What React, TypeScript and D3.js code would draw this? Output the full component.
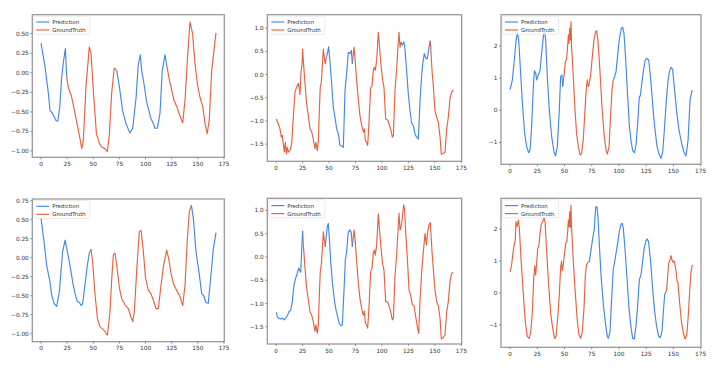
import React from 'react';
import * as d3 from 'd3';

// values: [step, value]
const p1Points = [
  [0, 0.38], [3.8, 0.08], [7, -0.26], [8.6, -0.48], [11, -0.52], [14.3, -0.61], [16, -0.62], [18, -0.43],
  [19.8, -0.05], [21.4, 0.14], [23.3, 0.31], [24.5, -0.05], [26, -0.18], [29.3, -0.31], [32.5, -0.52],
  [35.7, -0.73], [39, -0.97], [40.5, -0.86], [43, -0.18], [46.2, 0.33], [47.8, 0.25], [50, -0.22], [53, -0.78],
  [55.8, -0.9], [58, -0.95], [61, -0.97], [63.5, -1.01], [65.4, -0.78], [67.6, -0.26], [70, 0.06], [72.4, 0.03],
  [75, -0.18], [78, -0.48], [81.3, -0.65], [85, -0.77], [87.7, -0.71], [91, -0.31], [93, 0.1], [95, 0.23],
  [96.3, 0.03], [98.5, -0.14], [101, -0.37], [105, -0.58], [107.5, -0.65], [109, -0.71], [111.3, -0.71],
  [113.8, -0.52], [116, 0.03], [118.6, 0.23], [120.2, 0.1], [122.8, -0.09], [125, -0.22], [127.2, -0.35],
  [129.8, -0.43], [132.9, -0.55], [135.5, -0.64], [137.8, -0.35], [140, 0.16], [142.5, 0.65], [145, 0.5],
  [147.3, 0.12], [149.6, -0.14], [152, -0.31], [154.7, -0.43], [157, -0.65], [159, -0.78], [161, -0.6],
  [163.3, 0.03], [165.5, 0.29], [167.4, 0.51],
];

const p2Points = [
  [0.2, -0.96], [2, -1.06], [3.6, -1.17], [4.9, -1.35], [5.8, -1.31], [6.8, -1.49], [7.7, -1.67], [8.7, -1.46],
  [9.6, -1.71], [10.6, -1.57], [11.5, -1.67], [13.1, -1.64], [14.7, -1.49], [16.2, -0.92], [17.8, -0.38],
  [19.4, -0.27], [21, -0.19], [21.9, -0.31], [22.5, -0.43], [23.5, 0.05], [24.4, 0.19], [25, 0.55], [25.7, 0.3],
  [27.3, -0.2], [28.8, -0.63], [30.4, -0.88], [32, -1.17], [33.6, -1.24], [35.1, -1.39], [36.7, -1.6],
  [37.6, -1.46], [38.9, -1.64], [39.9, -1.42], [40.8, -0.78], [41.7, -0.27], [42.7, -0.17], [43.6, 0.16],
  [44.6, 0.55], [45.5, 0.37], [46.5, 0.23], [47.4, 0.37], [48.7, 0.48], [49.6, 0.6], [50.9, 0.27], [52.5, -0.2],
  [54, -0.7], [55.6, -0.92], [57.2, -1.17], [58.8, -1.28], [60.3, -1.53], [61.9, -1.54], [63.5, -1.57],
  [65.1, -0.34], [66.6, 0.01], [68.2, 0.48], [69.8, 0.45], [71.1, 0.52], [72, 0.23], [73.6, 0.59], [74.5, 0.37],
  [76.1, -0.13], [77.7, -0.56], [79.2, -0.88], [80.8, -1.1], [81.8, -1.17], [82.4, -1.24], [83.4, -1.17],
  [84.3, -1.42], [85.5, -1.46], [86.5, -1.53], [87.7, -1.06], [89.3, -0.29], [90.6, -0.24], [91.8, 0.09],
  [92.8, 0.16], [93.7, 0.09], [95, 0.3], [96.6, 0.91], [97.5, 0.66], [99.1, 0.19], [100.7, -0.13], [101.9, -0.27],
  [103.5, -0.96], [105.4, -0.98], [106.6, -1.06], [108.2, -1.17], [109.8, -1.35], [110.8, -1.31], [112.3, -0.34],
  [113.9, 0.12], [114.9, 0.52], [116.1, 0.91], [117.1, 0.59], [118, 0.7], [119.2, 0.63], [120.8, 0.7],
  [121.7, 0.55], [123.3, 0.09], [124.9, -0.42], [126.5, -0.78], [128.1, -1.05], [129.7, -1.1], [131.2, -1.28],
  [132.8, -1.35], [134.4, -1.39], [136, -0.56], [137.5, -0.02], [138.5, 0.23], [140, 0.45], [141.6, 0.34],
  [142.9, 0.34], [144.5, 0.59], [145.7, 0.73], [147.3, 0.09], [148.6, -0.27], [150.1, -0.78], [151.7, -0.92],
  [153.3, -1.03], [154.9, -1.35], [156.1, -1.72], [158, -1.7], [159.6, -1.67], [161.2, -1.17], [162.7, -0.92],
  [164.3, -0.52], [165.9, -0.38], [167.5, -0.33],
];

const p3Points = [
  [0, 0.65], [2.1, 0.95], [3.9, 1.57], [5.4, 2.14], [6.6, 2.45], [7.9, 2.19], [9.7, 1.15], [11.5, 0.11],
  [13.4, -0.72], [15.2, -1.13], [17.1, -1.32], [18.3, -1.24], [19.8, -0.51], [21.3, 0.69], [22.3, 1.23],
  [23.5, 1.17], [24.4, 0.95], [25.9, 1.1], [27.5, 1.24], [29, 1.78], [30.5, 2.29], [31.4, 2.5], [32.7, 2.19],
  [34.2, 1.05], [36, 0.01], [38.2, -0.82], [40.3, -1.29], [41.8, -1.42], [43.4, -1.13], [45.2, 0.01],
  [46.4, 1.05], [47.6, 1.1], [48.3, 0.74], [49.5, 1.05], [50.7, 1.52], [51.7, 1.57], [52.6, 1.88], [53.5, 2.35],
  [54.1, 2.09], [54.7, 2.55], [55.3, 2.19], [55.9, 2.76], [56.5, 1.98], [58.1, 1.05], [59.6, 0.01], [61.1, -0.72],
  [62.7, -1.13], [64.2, -1.39], [65.7, -1.34], [67.2, -0.92], [68.8, 0.01], [70, 0.69], [70.9, 0.95], [71.9, 0.74],
  [72.8, 0.84], [74, 1.1], [75.5, 1.67], [77.1, 2.21], [78.6, 2.45], [79.5, 2.48], [80.7, 2.19], [82.6, 1.2],
  [84.4, 0.11], [86.3, -0.72], [88.1, -1.24], [89.3, -1.36], [90.9, -1.13], [92.4, -0.09], [93.6, 0.63],
  [94.8, 0.95], [96, 1.05], [97.3, 1.2], [98.8, 1.72], [100.3, 2.21], [102.2, 2.55], [103.4, 2.59], [104.6, 2.4],
  [106.2, 1.57], [108, 0.43], [109.6, -0.51], [111.2, -0.98], [112.7, -1.26], [114.3, -1.32], [115.8, -1.03],
  [117.2, -0.4], [118.7, 0.43], [119.6, 0.45], [121.2, 0.89], [122.7, 1.31], [124.2, 1.57], [125.8, 1.62],
  [127.3, 1.57], [128.8, 1.1], [130.4, 0.43], [131.9, -0.2], [133.5, -0.72], [135, -1.13], [136.8, -1.36],
  [138.6, -1.5], [140.2, -1.29], [141.7, -0.61], [143.5, 0.32], [145, 0.89], [146.3, 1.2], [147.8, 1.34],
  [149.3, 1.28], [150.8, 0.74], [153, -0.04], [155.1, -0.61], [157.6, -1.03], [159.8, -1.32], [161.6, -1.42],
  [163.5, -0.92], [165.3, 0.32], [167.2, 0.63],
];

const p4Points = [
  [0, 0.52], [2.9, 0.21], [5.4, -0.1], [8.6, -0.32], [10.2, -0.49], [12.4, -0.6], [15, -0.64], [17.5, -0.45],
  [20.7, 0.08], [23, 0.23], [25.2, 0.08], [27.7, -0.1], [30.3, -0.32], [32.5, -0.47], [34.8, -0.58], [36.7, -0.59],
  [38.3, -0.63], [39.9, -0.6], [42, -0.36], [44.3, -0.1], [46.2, 0.06], [47.8, 0.11], [49.4, -0.05], [51.7, -0.49],
  [54, -0.8], [56.4, -0.91], [59, -0.94], [61.2, -0.97], [63.5, -1.02], [66, -0.71], [67.6, -0.29], [69.2, 0.04],
  [70.8, 0.06], [72.4, -0.1], [75, -0.4], [77.2, -0.54], [80.4, -0.62], [83.5, -0.67], [86, -0.78], [87.7, -0.84],
  [89.3, -0.71], [91.5, -0.18], [94, 0.34], [95.7, 0.36], [97.9, 0.08], [100, -0.27], [102.7, -0.43], [105, -0.47],
  [107.5, -0.56], [110, -0.67], [112.2, -0.67], [114.5, -0.4], [117, -0.12], [120.2, 0.1], [122.4, -0.03],
  [124.4, -0.21], [126.6, -0.34], [129.8, -0.43], [132.9, -0.51], [135.5, -0.63], [137.8, -0.36], [140, 0.25],
  [141.9, 0.61], [143.9, 0.69], [145.7, 0.52], [148.3, 0.08], [151.5, -0.23], [153.7, -0.47], [156, -0.51],
  [157.8, -0.59], [160, -0.6], [162.3, -0.27], [164.9, 0.12], [167.4, 0.33],
];

const p5Points = [
  [0.2, -1.19], [1.1, -1.28], [2.7, -1.32], [4.3, -1.33], [6.1, -1.32], [7.7, -1.35], [9.3, -1.3], [10.9, -1.25],
  [12.1, -1.17], [13.7, -1.15], [15.3, -0.96], [16.9, -0.6], [18.4, -0.46], [20, -0.35], [21.3, -0.24],
  [22.2, -0.28], [23.2, -0.33], [24.1, 0.11], [25, 0.56], [25.7, 0.26], [27.3, -0.24], [28.8, -0.67],
  [30.4, -0.92], [32, -1.17], [33.6, -1.25], [35.1, -1.39], [36.7, -1.6], [37.6, -1.46], [38.9, -1.64],
  [39.9, -1.46], [40.8, -0.82], [41.7, -0.32], [42.7, -0.16], [43.6, 0.15], [44.6, 0.54], [45.5, 0.37],
  [46.5, 0.22], [47.4, 0.47], [48.4, 0.65], [49.3, 0.72], [50.3, 0.4], [51.8, -0.17], [53.4, -0.6], [55, -0.92],
  [56.6, -1.14], [58.1, -1.28], [59.7, -1.43], [61.3, -1.48], [62.5, -1.46], [64.1, -0.74], [65.4, -0.06],
  [66.6, 0.11], [68.2, 0.54], [69.8, 0.58], [71.1, 0.51], [72, 0.22], [73.6, 0.58], [74.5, 0.4], [76.1, -0.1],
  [77.7, -0.57], [79.2, -0.89], [80.8, -1.1], [81.8, -1.21], [82.4, -1.25], [83.4, -1.17], [84.3, -1.43],
  [85.5, -1.46], [86.5, -1.53], [87.7, -1.1], [89.3, -0.32], [90.6, -0.24], [91.8, 0.08], [92.8, 0.15],
  [93.7, 0.04], [95, 0.26], [96.6, 0.92], [97.5, 0.65], [99.1, 0.19], [100.7, -0.16], [101.9, -0.28],
  [103.5, -0.96], [105.4, -0.97], [106.6, -1.05], [108.2, -1.17], [109.8, -1.35], [110.8, -1.32], [112.3, -0.42],
  [113.9, 0.04], [114.9, 0.44], [116.1, 0.94], [117.1, 0.58], [118, 0.63], [119.2, 0.83], [120.5, 1.12],
  [121.4, 1.01], [122.4, 0.54], [124, -0.03], [125.6, -0.71], [127.1, -0.82], [128.7, -1.02], [130.3, -1.05],
  [131.9, -1.28], [133.4, -1.5], [134.7, -1.64], [136, -0.92], [137.5, -0.32], [139.1, 0.11], [140.7, 0.51],
  [142, 0.26], [143.2, 0.54], [144.5, 0.69], [145.7, 0.74], [147.3, 0.11], [148.6, -0.28], [150.1, -0.71],
  [151.7, -0.96], [153.3, -1.05], [154.9, -1.32], [156.1, -1.76], [158, -1.73], [159.6, -1.67], [161.2, -1.17],
  [162.7, -0.96], [164.3, -0.53], [165.9, -0.35], [167.5, -0.33],
];

const p6Points = [
  [0, 0.65], [1.4, 0.88], [3, 1.34], [4.2, 1.58], [4.8, 1.66], [5.4, 2.23], [6.1, 2.07], [7, 2.18], [7.6, 2.28],
  [8.5, 2.02], [10, 1.08], [12.2, -0.06], [14, -0.9], [15.8, -1.36], [17.4, -1.42], [18.9, -1.26], [20.5, -0.58],
  [21.7, 0.46], [22.6, 0.85], [23.5, 0.56], [24.4, 0.93], [25.4, 1.4], [26.3, 1.45], [27.5, 1.86], [28.7, 2.15],
  [29.9, 2.23], [31.2, 2.35], [32.1, 2.23], [33.6, 1.29], [35.4, 0.25], [37.3, -0.64], [39.1, -1.1], [40.9, -1.42],
  [42.2, -1.36], [43.7, -0.79], [45.2, -0.06], [46.4, 0.79], [47.3, 1.0], [47.9, 0.69], [48.9, 0.88], [50.1, 1.29],
  [51.1, 1.55], [52, 1.58], [52.9, 1.92], [53.5, 2.28], [54.1, 2.07], [54.7, 2.54], [55.3, 2.04], [55.9, 2.75],
  [56.5, 2.02], [58.1, 0.98], [60, -0.06], [61.8, -0.9], [63.3, -1.31], [64.8, -1.42], [66.3, -1.21], [67.9, -0.48],
  [69.1, 0.56], [70.3, 0.88], [71.6, 0.96], [72.8, 0.98], [74.3, 1.34], [75.9, 1.71], [77.4, 2.02], [78.3, 2.54],
  [78.9, 2.7], [79.9, 2.68], [80.8, 2.33], [82, 1.5], [83.6, 0.51], [85.7, -0.38], [87.8, -1.0], [89.3, -1.36],
  [90.2, -1.42], [91.8, -1.21], [93.3, -0.17], [94.8, 0.77], [95.7, 0.9], [97.3, 1.24], [98.8, 1.55], [100.3, 1.92],
  [101.9, 2.15], [103.1, 2.18], [104, 2.02], [105.5, 1.4], [107.4, 0.46], [109.2, -0.48], [111.1, -1.1],
  [112.6, -1.42], [114.1, -1.44], [115.7, -1.0], [117.2, -0.38], [118.7, 0.41], [120.2, 0.56], [121.7, 0.98],
  [123.2, 1.4], [124.8, 1.63], [126, 1.69], [127.2, 1.6], [129.1, 0.98], [130.9, 0.15], [132.8, -0.58],
  [134.6, -1.05], [136.5, -1.36], [138, -1.4], [139.5, -1.21], [140.8, -0.58], [142, -0.06], [142.9, 0.02],
  [143.8, 0.09], [144.8, 0.56], [145.7, 0.93], [146.9, 1.03], [147.8, 1.17], [148.8, 1.03], [149.7, 0.96],
  [150.6, 1.0], [151.5, 0.88], [152.5, 0.67], [153.4, 0.37], [154.3, 0.3], [155.5, -0.22], [157.4, -0.9],
  [159.2, -1.26], [160.8, -1.44], [162.3, -1.31], [163.7, -0.69], [165.3, 0.25], [166.2, 0.67], [167.4, 0.88],
];

// step ranges drawn as Prediction; everything else is GroundTruth
const p1Pred = [[0, 24], [72, 120]];
const p2Pred = [[47, 72], [118, 146]];
const p3Pred = [[0, 48], [95, 168]];
const p4Pred = [[0, 48], [144, 168]];
const p5Pred = [[0, 25], [46.6, 72]];
const p6Pred = [[72, 143]];

const xTicks = [0, 25, 50, 75, 100, 125, 150, 175];
const yTicksA = [-1.0, -0.75, -0.5, -0.25, 0, 0.25, 0.5];
const yTicksA2 = [-1.0, -0.75, -0.5, -0.25, 0, 0.25, 0.5, 0.75];
const yTicksB = [-1.5, -1.0, -0.5, 0, 0.5, 1.0];
const yTicksC = [-1, 0, 1, 2];

const seriesNames = ['Prediction', 'GroundTruth'];

const BLUE = '#4189e6';
const RED = '#e8623f';
const FONT = 'DejaVu Sans, sans-serif';

type Pt = number[];

// cut the curve into runs of Prediction / GroundTruth
const splitSegments = (pts: Pt[], pred: number[][]) => {
  const segs: { pred: boolean; pts: Pt[] }[] = [];
  for (let i = 0; i < pts.length - 1; i++) {
    const mid = (pts[i][0] + pts[i + 1][0]) / 2;
    const isPred = pred.some(([a, b]) => mid >= a && mid <= b);
    const last = segs[segs.length - 1];
    if (last && last.pred === isPred) last.pts.push(pts[i + 1]);
    else segs.push({ pred: isPred, pts: [pts[i], pts[i + 1]] });
  }
  return segs;
};

const minus = (s: string) => s.replace('-', '\u2212');

interface PanelProps {
  box: { l: number; r: number; t: number; b: number };
  points: Pt[];
  pred: number[][];
  yDomain: [number, number];
  yTicks: number[];
  fmt: string;
}

const Panel: React.FC<PanelProps> = ({ box, points, pred, yDomain, yTicks, fmt }) => {
  const x = d3.scaleLinear().domain([-8.35, 175.35]).range([box.l, box.r]);
  const y = d3.scaleLinear().domain(yDomain).range([box.b, box.t]);
  const line = d3.line<Pt>().x(d => x(d[0])).y(d => y(d[1]));
  const segs = splitSegments(points, pred);
  const f = d3.format(fmt);

  return (
    <g>
      {segs.filter(s => !s.pred).map((s, i) => (
        <path key={'g' + i} d={line(s.pts) || ''} fill="none" stroke={RED} strokeWidth={1.15} strokeLinejoin="round" />
      ))}
      {segs.filter(s => s.pred).map((s, i) => (
        <path key={'p' + i} d={line(s.pts) || ''} fill="none" stroke={BLUE} strokeWidth={1.15} strokeLinejoin="round" />
      ))}

      <rect x={box.l} y={box.t} width={box.r - box.l} height={box.b - box.t} fill="none" stroke="#9a9a9a" strokeWidth={1.3} />

      {xTicks.map(t => (
        <g key={'x' + t}>
          <line x1={x(t)} x2={x(t)} y1={box.b} y2={box.b + 2} stroke="#555" strokeWidth={0.6} />
          <text x={x(t)} y={box.b + 8.5} textAnchor="middle" fontSize={5.8} fill="#333" fontFamily={FONT}>{t}</text>
        </g>
      ))}
      {yTicks.map(t => (
        <g key={'y' + t}>
          <line x1={box.l - 2} x2={box.l} y1={y(t)} y2={y(t)} stroke="#555" strokeWidth={0.6} />
          <text x={box.l - 3.5} y={y(t) + 2} textAnchor="end" fontSize={5.8} fill="#333" fontFamily={FONT}>{minus(f(t))}</text>
        </g>
      ))}

      {/* legend */}
      <rect x={box.l + 1.5} y={box.t + 1.5} width={56} height={18} rx={1.5} fill="#fff" fillOpacity={0.8} stroke="#ddd" strokeWidth={0.6} />
      {seriesNames.map((name, i) => (
        <g key={name}>
          <line x1={box.l + 4} x2={box.l + 17} y1={box.t + 7.3 + i * 8} y2={box.t + 7.3 + i * 8} stroke={i === 0 ? BLUE : RED} strokeWidth={1.15} />
          <text x={box.l + 20} y={box.t + 9.3 + i * 8} fontSize={5.4} fill="#333" fontFamily={FONT}>{name}</text>
        </g>
      ))}
    </g>
  );
};

const panels: PanelProps[] = [
  { box: { l: 32.3, r: 224.3, t: 14.7, b: 157.3 }, points: p1Points, pred: p1Pred, yDomain: [-1.081, 0.743], yTicks: yTicksA, fmt: '.2f' },
  { box: { l: 267.3, r: 461.7, t: 14.7, b: 161.3 }, points: p2Points, pred: p2Pred, yDomain: [-1.87, 1.29], yTicks: yTicksB, fmt: '.1f' },
  { box: { l: 501, r: 701, t: 14.7, b: 164.3 }, points: p3Points, pred: p3Pred, yDomain: [-1.68, 2.98], yTicks: yTicksC, fmt: 'd' },
  { box: { l: 32.3, r: 224.3, t: 199, b: 341.7 }, points: p4Points, pred: p4Pred, yDomain: [-1.105, 0.772], yTicks: yTicksA2, fmt: '.2f' },
  { box: { l: 267.3, r: 461.7, t: 198.3, b: 344 }, points: p5Points, pred: p5Pred, yDomain: [-1.87, 1.26], yTicks: yTicksB, fmt: '.1f' },
  { box: { l: 501, r: 701, t: 198.3, b: 347.3 }, points: p6Points, pred: p6Pred, yDomain: [-1.7, 2.96], yTicks: yTicksC, fmt: 'd' },
];

export default function App() {
  return (
    <div style={{ position: 'absolute', left: 0, top: 0 }}>
      <svg width={720} height={369} style={{ display: 'block', background: '#fff' }}>
        {panels.map((p, i) => <Panel key={i} {...p} />)}
      </svg>
    </div>
  );
}
